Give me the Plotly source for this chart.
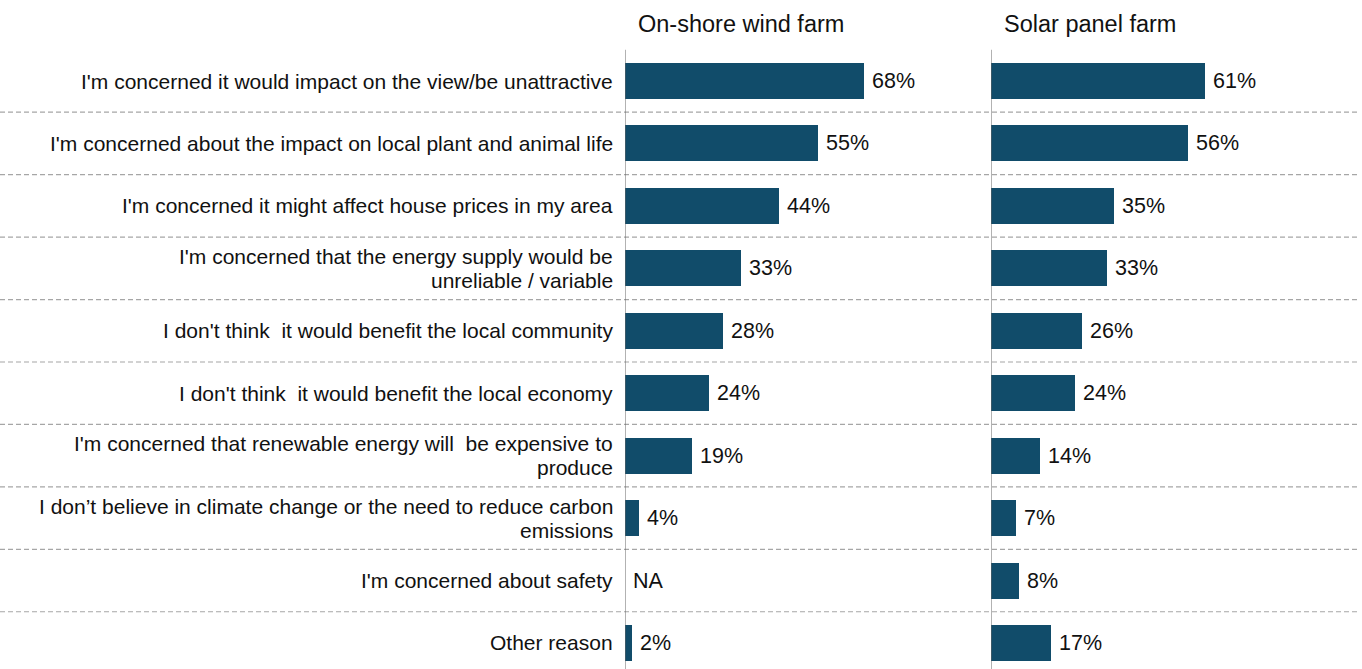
import plotly.graph_objects as go

categories = [
    "I'm concerned it would impact on the view/be unattractive",
    "I'm concerned about the impact on local plant and animal life",
    "I'm concerned it might affect house prices in my area",
    "I'm concerned that the energy supply would be<br>unreliable / variable",
    "I don't think  it would benefit the local community",
    "I don't think  it would benefit the local economy",
    "I'm concerned that renewable energy will  be expensive to<br>produce",
    "I don’t believe in climate change or the need to reduce carbon<br>emissions",
    "I'm concerned about safety",
    "Other reason",
]
wind = [68, 55, 44, 33, 28, 24, 19, 4, None, 2]
solar = [61, 56, 35, 33, 26, 24, 14, 7, 8, 17]
panel_titles = ["On-shore wind farm", "Solar panel farm"]

W, H = 1362, 669
BAR = "#114C6A"
FONT = "Liberation Sans, Arial, sans-serif"
TXT = "#111111"
px_per = 3.51
row_h = 62.44
y0px = 81
line_gap = 24

idx = list(range(len(categories)))
y_top = -y0px / row_h
y_bot = (H - y0px) / row_h

l0, l1 = 625, 975
r0, r1 = 991, W

fig = go.Figure()
fig.add_trace(go.Bar(x=[v if v is not None else 0 for v in wind], y=idx, orientation="h",
                     marker=dict(color=BAR, line=dict(width=0)), width=0.577,
                     xaxis="x", yaxis="y", hoverinfo="skip"))
fig.add_trace(go.Bar(x=solar, y=idx, orientation="h",
                     marker=dict(color=BAR, line=dict(width=0)), width=0.577,
                     xaxis="x2", yaxis="y", hoverinfo="skip"))

ann = []
for i, c in enumerate(categories):
    lines = c.split("<br>")
    n = len(lines)
    for k, ln in enumerate(lines):
        shift = ((n - 1) / 2 - k) * line_gap
        ann.append(dict(x=615 / W, xref="paper", y=i, yref="y", text=ln, showarrow=False,
                        xanchor="right", align="right", yanchor="middle", yshift=shift,
                        font=dict(family=FONT, size=21, color=TXT)))
for i, v in enumerate(wind):
    ann.append(dict(x=v if v is not None else 0, xref="x", y=i, yref="y",
                    text=f"{v}%" if v is not None else "NA", showarrow=False,
                    xanchor="left", xshift=6, yanchor="middle",
                    font=dict(family=FONT, size=21.5, color=TXT)))
for i, v in enumerate(solar):
    ann.append(dict(x=v, xref="x2", y=i, yref="y", text=f"{v}%", showarrow=False,
                    xanchor="left", xshift=6, yanchor="middle",
                    font=dict(family=FONT, size=21.5, color=TXT)))
for xc, t in zip([741, 1090], panel_titles):
    ann.append(dict(x=xc / W, xref="paper", y=1 - 24 / H, yref="paper", text=t,
                    showarrow=False, xanchor="center", yanchor="middle",
                    font=dict(family=FONT, size=23.5, color=TXT)))

shapes = []
for i in range(len(categories) - 1):
    shapes.append(dict(type="line", xref="paper", yref="y", x0=0, x1=1358 / W,
                       y0=i + 0.5, y1=i + 0.5,
                       line=dict(color="#A6A6A6", width=1.2, dash="5px,3px")))
for xr in ["x", "x2"]:
    shapes.append(dict(type="line", xref=xr, yref="y", x0=0, x1=0, y0=-0.5, y1=y_bot,
                       line=dict(color="#666666", width=1)))

fig.update_layout(
    width=W, height=H, margin=dict(l=0, r=0, t=0, b=0),
    paper_bgcolor="white", plot_bgcolor="rgba(0,0,0,0)",
    showlegend=False, bargap=0,
    xaxis=dict(domain=[l0 / W, l1 / W], range=[0, (l1 - l0) / px_per], visible=False, fixedrange=True),
    xaxis2=dict(domain=[r0 / W, 1], range=[0, (r1 - r0) / px_per], visible=False, fixedrange=True),
    yaxis=dict(domain=[0, 1], range=[y_bot, y_top], visible=False, fixedrange=True),
    annotations=ann, shapes=shapes,
)
fig.write_html("out.html")
